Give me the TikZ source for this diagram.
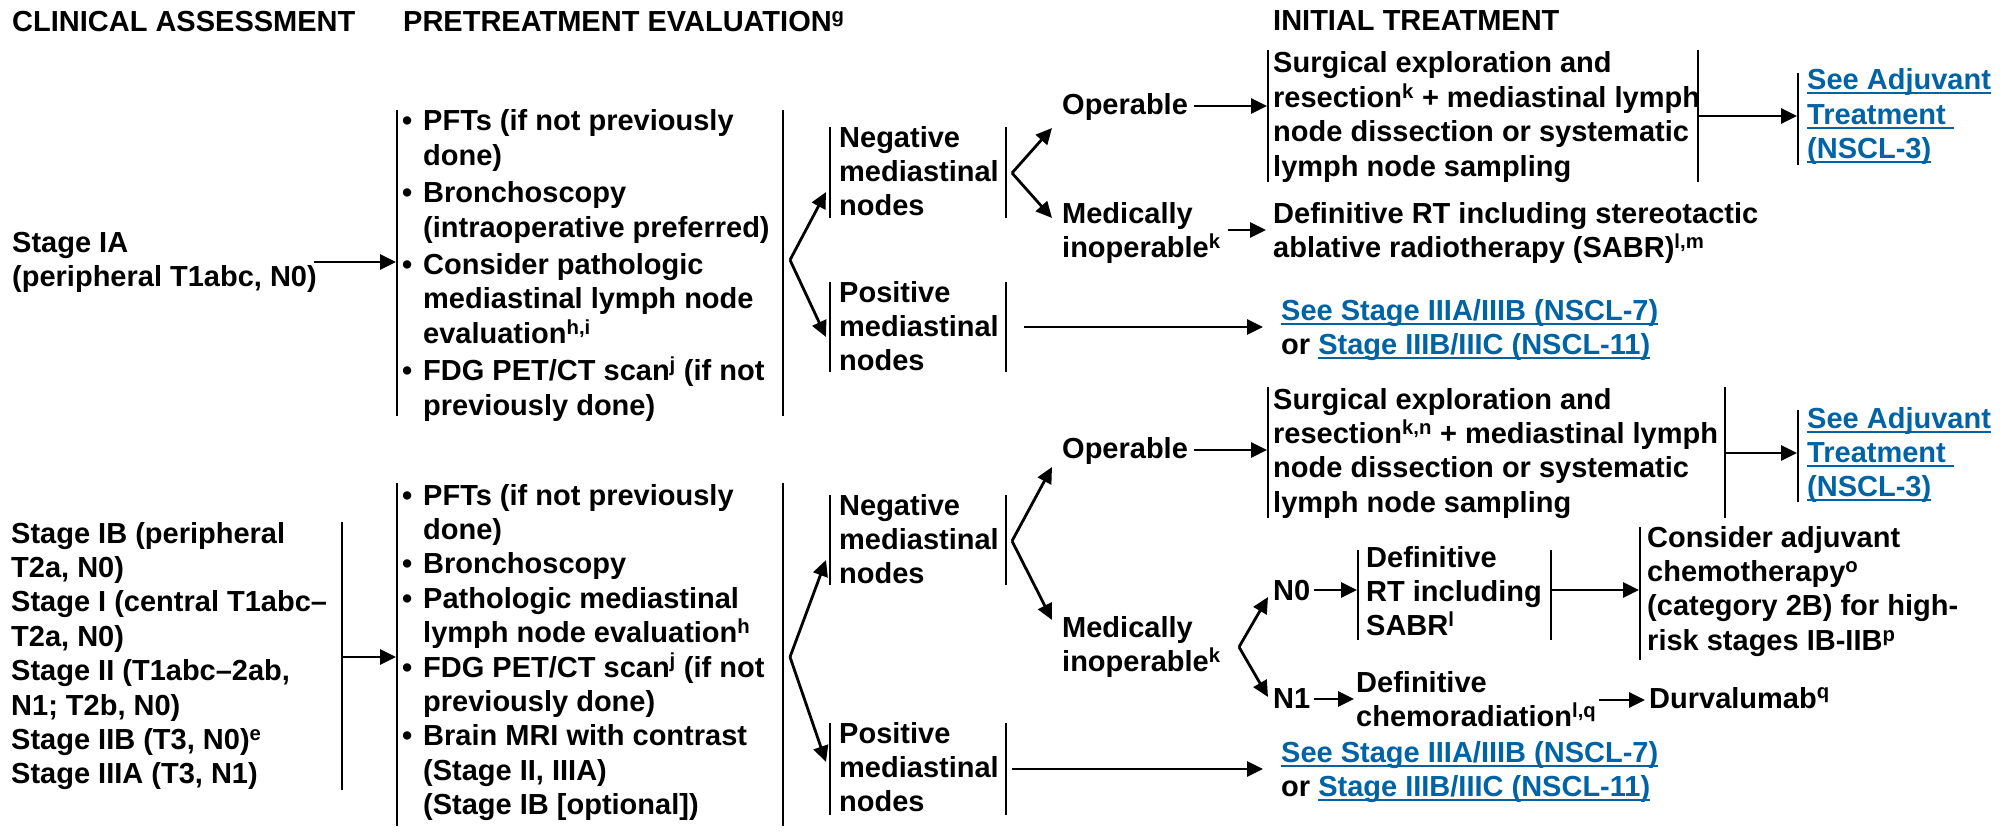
\documentclass[tikz,border=0pt]{standalone}
\usepackage{fontspec}
\setmainfont{Liberation Sans}
\usetikzlibrary{arrows.meta,calc}
\definecolor{linkblue}{RGB}{0,99,166}
\newcommand\sps[1]{\textsuperscript{#1}}
\newcommand\lnk[1]{{\color{linkblue}\setbox0\hbox{#1}\rlap{\rule[-4.5pt]{\wd0}{2pt}}\box0}}
\newcommand\bl{\makebox[21pt][l]{\textbullet}}
\newcommand\cn{\hspace*{21pt}}
\newcommand\tb[1]{\begin{tabular}[t]{@{}l@{}}#1\end{tabular}}
\begin{document}
\begin{tikzpicture}[x=1pt,y=-1pt,
  txt/.style={anchor=base west,inner sep=0pt,font=\bfseries\fontsize{29}{34.4}\selectfont},
  bar/.style={line width=2pt},
  arr/.style={line width=2.8pt,-{Triangle[length=16pt,width=15pt]}}]
\useasboundingbox (0,0) rectangle (2007,832);
\fill[white] (0,0) rectangle (2007,832);

% headings
\node[txt] (h1) at (12,32) {CLINICAL ASSESSMENT};
\node[txt] (h2) at (403,32) {PRETREATMENT EVALUATION\sps{g}};
\node[txt] (h3) at (1273,31) {INITIAL TREATMENT};

% ---------------- upper half ----------------
\node[txt] (sIA) at (12,252) {\tb{Stage IA\\(peripheral T1abc, N0)}};
\node[txt] (p1) at (402,131) {\tb{\bl PFTs (if not previously\\\cn done)\\[3pt]\bl Bronchoscopy\\\cn (intraoperative preferred)\\[3pt]\bl Consider pathologic\\\cn mediastinal lymph node\\\cn evaluation\sps{h,i}\\[3pt]\bl FDG PET/CT scan\sps{j} (if not\\\cn previously done)}};
\draw[bar] (397,110) -- (397,416);
\draw[bar] (783,110) -- (783,416);
\coordinate (a1s) at (314,262);
\coordinate (a1e) at (396,262);
\draw[arr] (a1s) -- (a1e);

\coordinate (f1) at (790,260);
\coordinate (f1a) at (826,192);
\coordinate (f1b) at (826,337);
\draw[arr] (f1) -- (f1a);
\draw[arr] (f1) -- (f1b);

\node[txt] (neg1) at (839,147) {\tb{Negative\\mediastinal\\nodes}};
\draw[bar] (830,127) -- (830,218);
\draw[bar] (1006,127) -- (1006,218);
\node[txt] (pos1) at (839,302) {\tb{Positive\\mediastinal\\nodes}};
\draw[bar] (830,282) -- (830,372);
\draw[bar] (1006,282) -- (1006,372);

\coordinate (f2) at (1012,173);
\coordinate (f2a) at (1052,128);
\coordinate (f2b) at (1052,218);
\draw[arr] (f2) -- (f2a);
\draw[arr] (f2) -- (f2b);

\node[txt] (op1) at (1062,115) {Operable};
\coordinate (o1s) at (1194,106);
\coordinate (o1e) at (1267,106);
\draw[arr] (o1s) -- (o1e);

\node[txt] (s1) at (1273,73) {\tb{Surgical exploration and\\resection\sps{k} + mediastinal lymph\\node dissection or systematic\\lymph node sampling}};
\draw[bar] (1268,50) -- (1268,182);
\draw[bar] (1698,50) -- (1698,182);
\coordinate (s1s) at (1699,116);
\coordinate (s1e) at (1797,116);
\draw[arr] (s1s) -- (s1e);

\node[txt] (adj1) at (1807,90) {\tb{\lnk{See Adjuvant}\\\lnk{Treatment\ }\\\lnk{(NSCL-3)}}};
\draw[bar] (1798,73) -- (1798,165);

\node[txt] (med1) at (1062,223) {\tb{Medically\\inoperable\sps{k}}};
\coordinate (m1s) at (1228,230);
\coordinate (m1e) at (1266,230);
\draw[arr] (m1s) -- (m1e);
\node[txt] (dr1) at (1273,223) {\tb{Definitive RT including stereotactic\\ablative radiotherapy (SABR)\sps{l,m}}};

\coordinate (ps1s) at (1024,327);
\coordinate (ps1e) at (1263,327);
\draw[arr] (ps1s) -- (ps1e);
\node[txt] (ss1) at (1281,320) {\tb{\lnk{See Stage IIIA/IIIB (NSCL-7)}\\or \lnk{Stage IIIB/IIIC (NSCL-11)}}};

% ---------------- lower half ----------------
\node[txt] (sl) at (11,543) {\tb{Stage IB (peripheral\\T2a, N0)\\Stage I (central T1abc–\\T2a, N0)\\Stage II (T1abc–2ab,\\N1; T2b, N0)\\Stage IIB (T3, N0)\sps{e}\\Stage IIIA (T3, N1)}};
\draw[bar] (342,522) -- (342,790);
\coordinate (a2s) at (342,657);
\coordinate (a2e) at (396,657);
\draw[arr] (a2s) -- (a2e);

\node[txt] (p2) at (402,505) {\tb{\bl PFTs (if not previously\\\cn done)\\\bl Bronchoscopy\\\bl Pathologic mediastinal\\\cn lymph node evaluation\sps{h}\\\bl FDG PET/CT scan\sps{j} (if not\\\cn previously done)\\\bl Brain MRI with contrast\\\cn (Stage II, IIIA)\\\cn (Stage IB [optional])}};
\draw[bar] (397,483) -- (397,826);
\draw[bar] (783,483) -- (783,826);

\coordinate (f3) at (790,657);
\coordinate (f3a) at (826,560);
\coordinate (f3b) at (826,762);
\draw[arr] (f3) -- (f3a);
\draw[arr] (f3) -- (f3b);

\node[txt] (neg2) at (839,515) {\tb{Negative\\mediastinal\\nodes}};
\draw[bar] (830,495) -- (830,585);
\draw[bar] (1006,495) -- (1006,585);
\node[txt] (pos2) at (839,743) {\tb{Positive\\mediastinal\\nodes}};
\draw[bar] (830,723) -- (830,815);
\draw[bar] (1006,723) -- (1006,815);

\coordinate (f4) at (1012,541);
\coordinate (f4a) at (1052,467);
\coordinate (f4b) at (1052,620);
\draw[arr] (f4) -- (f4a);
\draw[arr] (f4) -- (f4b);

\node[txt] (op2) at (1062,458) {Operable};
\coordinate (o2s) at (1194,450);
\coordinate (o2e) at (1267,450);
\draw[arr] (o2s) -- (o2e);

\node[txt] (s2) at (1273,409) {\tb{Surgical exploration and\\resection\sps{k,n} + mediastinal lymph\\node dissection or systematic\\lymph node sampling}};
\draw[bar] (1268,387) -- (1268,518);
\draw[bar] (1725,387) -- (1725,518);
\coordinate (s2s) at (1726,453);
\coordinate (s2e) at (1797,453);
\draw[arr] (s2s) -- (s2e);

\node[txt] (adj2) at (1807,428) {\tb{\lnk{See Adjuvant}\\\lnk{Treatment\ }\\\lnk{(NSCL-3)}}};
\draw[bar] (1798,410) -- (1798,502);

\node[txt] (med2) at (1062,637) {\tb{Medically\\inoperable\sps{k}}};
\coordinate (f5) at (1239,647);
\coordinate (f5a) at (1268,597);
\coordinate (f5b) at (1268,697);
\draw[arr] (f5) -- (f5a);
\draw[arr] (f5) -- (f5b);

\node[txt] (n0) at (1273,600) {N0};
\coordinate (n0s) at (1314,590);
\coordinate (n0e) at (1357,590);
\draw[arr] (n0s) -- (n0e);
\node[txt] (drt) at (1366,567) {\tb{Definitive\\RT including\\SABR\sps{l}}};
\draw[bar] (1358,550) -- (1358,640);
\draw[bar] (1551,550) -- (1551,640);
\coordinate (d2s) at (1552,590);
\coordinate (d2e) at (1639,590);
\draw[arr] (d2s) -- (d2e);
\node[txt] (cons) at (1647,547) {\tb{Consider adjuvant\\chemotherapy\sps{o}\\(category 2B) for high-\\risk stages IB-IIB\sps{p}}};
\draw[bar] (1640,527) -- (1640,660);

\node[txt] (n1) at (1273,708) {N1};
\coordinate (n1s) at (1314,699);
\coordinate (n1e) at (1354,699);
\draw[arr] (n1s) -- (n1e);
\node[txt] (dcr) at (1356,692) {\tb{Definitive\\chemoradiation\sps{l,q}}};
\coordinate (dcs) at (1599,700);
\coordinate (dce) at (1645,700);
\draw[arr] (dcs) -- (dce);
\node[txt] (durv) at (1649,708) {Durvalumab\sps{q}};

\coordinate (ps2s) at (1012,769);
\coordinate (ps2e) at (1263,769);
\draw[arr] (ps2s) -- (ps2e);
\node[txt] (ss2) at (1281,762) {\tb{\lnk{See Stage IIIA/IIIB (NSCL-7)}\\or \lnk{Stage IIIB/IIIC (NSCL-11)}}};
\end{tikzpicture}
\end{document}
